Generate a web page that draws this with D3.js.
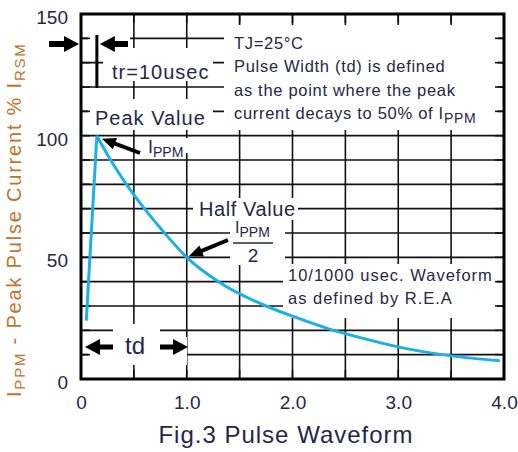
<!DOCTYPE html>
<html>
<head>
<meta charset="utf-8">
<script src="https://cdn.jsdelivr.net/npm/d3@7"></script>
<style>
  body { margin: 0; background: #fff; }
  text { font-family: "Liberation Sans", Arial, sans-serif; }
</style>
</head>
<body>
<div id="chart"></div>
<script>
// pulse waveform (time in ms, current in % of IPPM)
var riseTime = [0.05, 0.15];
var riseCurrent = [24, 100];
var decayTime = [0.15, 0.28, 0.43, 0.6, 0.79, 1.0, 1.3, 1.75, 2.02, 2.35, 2.64, 3.02, 3.5, 3.96];
var decayCurrent = [100, 90, 80, 70, 60, 50, 40, 30, 25.5, 20.5, 17, 13, 9.5, 7.5];

var xTicks = [0, 1, 2, 3, 4];
var xTickLabels = ['0', '1.0', '2.0', '3.0', '4.0'];
var yTicks = [0, 50, 100, 150];
var xGrid = [0.5, 1, 1.5, 2, 2.5, 3, 3.5];
var yGrid = [10, 20, 30, 40, 50, 60, 70, 80, 90, 100, 110, 120, 130, 140];

var noteLines = ['TJ=25\u00B0C', 'Pulse Width (td) is defined', 'as the point where the peak', 'current decays to 50% of '];
var waveLines = ['10/1000 usec. Waveform', 'as defined by R.E.A'];

var width = 518, height = 452;
var pLeft = 81, pRight = 504, pTop = 14, pBottom = 379;
var ink = '#26264a';

var svg = d3.select('#chart').append('svg')
    .attr('width', width)
    .attr('height', height);

svg.append('rect').attr('width', width).attr('height', height).attr('fill', '#fff');

var x = d3.scaleLinear().domain([0, 4]).range([pLeft, pRight]);
var y = d3.scaleLinear().domain([0, 150]).range([pBottom, pTop]);

// grid
svg.append('g').selectAll('line').data(xGrid).join('line')
    .attr('x1', d => x(d)).attr('x2', d => x(d))
    .attr('y1', pTop).attr('y2', pBottom)
    .attr('stroke', '#111').attr('stroke-width', 1.6);
svg.append('g').selectAll('line').data(yGrid).join('line')
    .attr('x1', pLeft).attr('x2', pRight)
    .attr('y1', d => y(d)).attr('y2', d => y(d))
    .attr('stroke', '#111').attr('stroke-width', 1.6);

// white boxes behind the notes, like in the datasheet
var masks = [
    [224, 25, 274, 105],
    [88, 29, 42, 28],
    [103, 48, 110, 33],
    [88, 99, 125, 31],
    [145, 138, 44, 15],
    [193, 198, 105, 22],
    [230, 220, 55, 45],
    [283, 264, 214, 54],
    [88, 337, 99, 28],
    [113, 324, 47, 14]
];
svg.append('g').selectAll('rect').data(masks).join('rect')
    .attr('x', d => d[0]).attr('y', d => d[1])
    .attr('width', d => d[2]).attr('height', d => d[3])
    .attr('fill', '#fff');

// inward ticks on the frame
var tk = 9;
var ticksG = svg.append('g').attr('stroke', '#111').attr('stroke-width', 1.6);
xGrid.forEach(function(d) {
    ticksG.append('line').attr('x1', x(d)).attr('x2', x(d)).attr('y1', pTop).attr('y2', pTop + tk);
    ticksG.append('line').attr('x1', x(d)).attr('x2', x(d)).attr('y1', pBottom).attr('y2', pBottom - tk);
});
yGrid.forEach(function(d) {
    ticksG.append('line').attr('x1', pLeft).attr('x2', pLeft + tk).attr('y1', y(d)).attr('y2', y(d));
    ticksG.append('line').attr('x1', pRight).attr('x2', pRight - tk).attr('y1', y(d)).attr('y2', y(d));
});

svg.append('rect')
    .attr('x', pLeft).attr('y', pTop)
    .attr('width', pRight - pLeft).attr('height', pBottom - pTop)
    .attr('fill', 'none').attr('stroke', '#000').attr('stroke-width', 3);

// axes labels
var yAxis = svg.append('g')
    .attr('transform', `translate(${pLeft}, 0)`)
    .call(d3.axisLeft(y).tickValues(yTicks).tickSize(0).tickPadding(13));
yAxis.select('.domain').remove();
yAxis.selectAll('text')
    .attr('dy', '0.5em')
    .style('font-size', '19px')
    .style('font-family', '"Liberation Sans", Arial, sans-serif')
    .attr('fill', ink);

var xAxis = svg.append('g')
    .attr('transform', `translate(0, ${pBottom})`)
    .call(d3.axisBottom(x).tickValues(xTicks).tickSize(0).tickPadding(17)
        .tickFormat((d, i) => xTickLabels[i]));
xAxis.select('.domain').remove();
xAxis.selectAll('text')
    .style('font-size', '19px')
    .style('font-family', '"Liberation Sans", Arial, sans-serif')
    .attr('fill', ink);

// the waveform
var riseData = riseTime.map((t, i) => ({ t: t, v: riseCurrent[i] }));
var decayData = decayTime.map((t, i) => ({ t: t, v: decayCurrent[i] }));
var curveColor = '#1cb0e8';
svg.append('path')
    .attr('d', d3.line().x(d => x(d.t)).y(d => y(d.v))(riseData))
    .attr('fill', 'none').attr('stroke', curveColor).attr('stroke-width', 3);
svg.append('path')
    .attr('d', d3.line().x(d => x(d.t)).y(d => y(d.v)).curve(d3.curveMonotoneX)(decayData))
    .attr('fill', 'none').attr('stroke', curveColor).attr('stroke-width', 3)
    .attr('stroke-linejoin', 'round');

// thick arrow with filled head, tip at (x2, y2)
function arrow(x1, y1, x2, y2, shaft, headLen, headHalf) {
    var dx = x2 - x1, dy = y2 - y1;
    var len = Math.sqrt(dx * dx + dy * dy);
    var ux = dx / len, uy = dy / len, nx = -uy, ny = ux;
    var bx = x2 - ux * headLen, by = y2 - uy * headLen;
    var s = shaft / 2;
    var pts = [
        [x1 + nx * s, y1 + ny * s],
        [bx + nx * s, by + ny * s],
        [bx + nx * headHalf, by + ny * headHalf],
        [x2, y2],
        [bx - nx * headHalf, by - ny * headHalf],
        [bx - nx * s, by - ny * s],
        [x1 - nx * s, y1 - ny * s]
    ];
    svg.append('path').attr('d', 'M' + pts.join('L') + 'Z').attr('fill', '#000');
}

// tr marker
svg.append('line').attr('x1', x(0.15)).attr('x2', x(0.15)).attr('y1', 35).attr('y2', 88)
    .attr('stroke', '#000').attr('stroke-width', 3);
arrow(49, 44, 79, 44, 6, 15, 8);
arrow(128, 44, x(0.15) + 3, 44, 6, 15, 8);

function label(tx, ty, size, str, spacing) {
    return svg.append('text').attr('x', tx).attr('y', ty)
        .style('font-size', size + 'px')
        .style('letter-spacing', (spacing || 0) + 'px')
        .attr('fill', ink).text(str);
}

label(112, 79, 20, 'tr=10usec', 1);
label(95, 125, 20, 'Peak Value', 1);

// IPPM at the peak
arrow(140, 153, x(0.15) + 5, y(100) + 3, 4, 14, 6);
var ip = label(148, 153, 18, 'I', 0);
ip.append('tspan').attr('dy', 4).style('font-size', '14px').text('PPM');

// half value
label(199, 216, 20, 'Half Value', 0.6);
var fr = label(235, 233, 16, 'I', 0);
fr.append('tspan').attr('dy', 4).style('font-size', '14px').text('PPM');
svg.append('line').attr('x1', 233).attr('x2', 273).attr('y1', 243).attr('y2', 243)
    .attr('stroke', ink).attr('stroke-width', 1.6);
label(253, 262, 19, '2', 0).attr('text-anchor', 'middle');
arrow(228, 240, x(1.0) + 2, y(50) - 1, 4, 14, 6);

// notes top right
noteLines.forEach(function(s, i) {
    var t = label(234, 49 + i * 23.3, 16.5, s, 0.7);
    if (i === noteLines.length - 1) {
        t.append('tspan').text('I');
        t.append('tspan').attr('dy', 4).style('font-size', '14px').text('PPM');
    }
});

waveLines.forEach(function(s, i) {
    label(288, 281 + i * 23, 16.5, s, 1);
});

// td
arrow(113, 347, 85, 347, 5, 15, 8);
arrow(160, 347, 188, 347, 5, 15, 8);
label(135, 354, 24, 'td', 0).attr('text-anchor', 'middle');

// y title
var yt = svg.append('text')
    .attr('transform', 'translate(21, 397) rotate(-90)')
    .style('font-size', '20px')
    .style('letter-spacing', '1.8px')
    .attr('fill', '#c0742c');
yt.append('tspan').text('I');
yt.append('tspan').attr('dy', 4).style('font-size', '15px').text('PPM');
yt.append('tspan').attr('dy', -4).text(' - Peak Pulse Current % I');
yt.append('tspan').attr('dy', 4).style('font-size', '15px').text('RSM');

// caption
label(286, 443, 24, 'Fig.3 Pulse Waveform', 1).attr('text-anchor', 'middle');
</script>
</body>
</html>
